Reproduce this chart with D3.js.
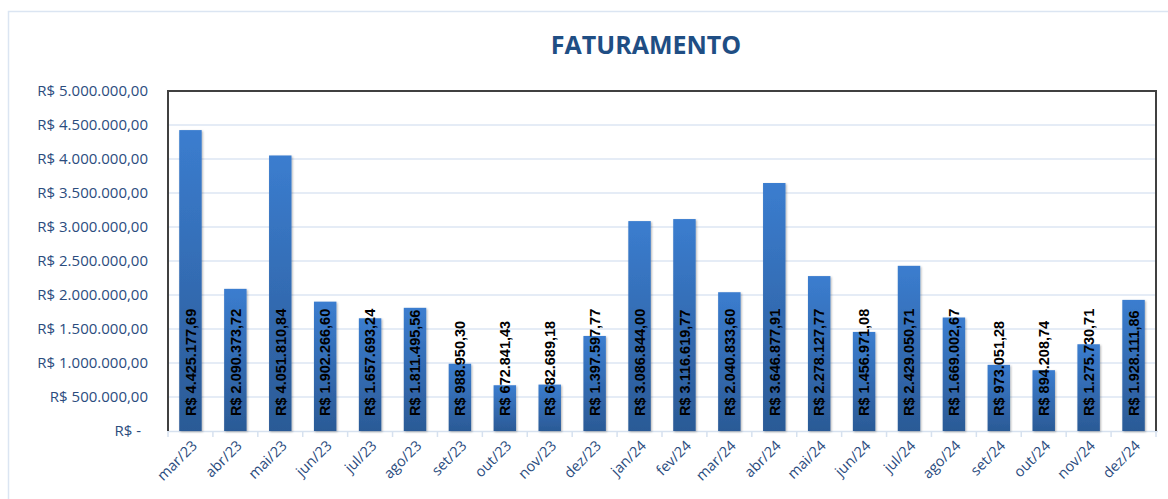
<!DOCTYPE html>
<html>
<head>
  <meta charset="utf-8">
  <title>Faturamento</title>
  <script src="https://d3js.org/d3.v7.min.js"></script>
  <style>
    body { margin: 0; background: #fff; }
    .ylab { font-family: "Open Sans", sans-serif; font-size: 15px; fill: #2b4c7e; }
    .xlab { font-family: "Open Sans", sans-serif; font-size: 14.5px; fill: #2b4c7e; }
    .vlab { font-family: "Liberation Sans", Arial, sans-serif; font-size: 14.5px; font-weight: bold; fill: #000; }
  </style>
</head>
<body>
  <div id="chart"></div>
  <script>
    // monthly revenue
    const months = ["mar/23","abr/23","mai/23","jun/23","jul/23","ago/23","set/23","out/23","nov/23","dez/23",
                    "jan/24","fev/24","mar/24","abr/24","mai/24","jun/24","jul/24","ago/24","set/24","out/24","nov/24","dez/24"];
    const revenue = [4425177.69, 2090373.72, 4051810.84, 1902266.60, 1657693.24, 1811495.56, 988950.30, 672841.43,
                     682689.18, 1397597.77, 3086844.00, 3116619.77, 2040833.60, 3646877.91, 2278127.77, 1456971.08,
                     2429050.71, 1669002.67, 973051.28, 894208.74, 1275730.71, 1928111.86];
    const yTicks = [0, 500000, 1000000, 1500000, 2000000, 2500000, 3000000, 3500000, 4000000, 4500000, 5000000];

    const width = 1168, height = 499;
    const margin = { left: 168, right: 12, top: 91, bottom: 68 };

    // pt-BR currency format
    const fmt = d3.formatLocale({ decimal: ",", thousands: ".", grouping: [3], currency: ["R$ ", ""] });
    const money = fmt.format(",.2f");
    const tickLabel = v => v === 0 ? "R$ -" : "R$ " + money(v);

    const svg = d3.select("#chart").append("svg")
      .attr("width", width).attr("height", height);

    const defs = svg.append("defs");
    const grad = defs.append("linearGradient").attr("id", "barGrad")
      .attr("x1", 0).attr("y1", 0).attr("x2", 0).attr("y2", 1)
      .attr("gradientUnits", "objectBoundingBox");
    grad.append("stop").attr("offset", "0%").attr("stop-color", "#3b7dcf");
    grad.append("stop").attr("offset", "100%").attr("stop-color", "#2b5a96");

    const shadow = defs.append("filter").attr("id", "shadow")
      .attr("x", "-30%").attr("y", "-10%").attr("width", "160%").attr("height", "120%");
    shadow.append("feDropShadow").attr("dx", 1).attr("dy", 1).attr("stdDeviation", 1.2)
      .attr("flood-color", "#000").attr("flood-opacity", 0.3);

    // outer chart frame
    svg.append("path").attr("d", `M8.5,${height} V11.5 H${width}`)
      .attr("fill", "none").attr("stroke", "#dbe5f2").attr("stroke-width", 1.5);

    const x = d3.scaleBand().domain(months)
      .range([margin.left, width - margin.right]).paddingInner(0.5).paddingOuter(0.25);
    const y = d3.scaleLinear().domain([0, 5000000]).range([height - margin.bottom, margin.top]);

    // gridlines
    svg.append("g").selectAll("line").data(yTicks.filter(d => d > 0 && d < 5000000)).join("line")
      .attr("x1", margin.left).attr("x2", width - margin.right)
      .attr("y1", d => y(d)).attr("y2", d => y(d))
      .attr("stroke", "#dce6f3").attr("stroke-width", 1.5);

    // y axis labels
    svg.append("g").selectAll("text").data(yTicks).join("text")
      .attr("class", "ylab")
      .attr("x", d => d === 0 ? 141 : 148).attr("y", d => y(d)).attr("dy", "0.35em")
      .attr("text-anchor", "end")
      .text(tickLabel);

    // x axis line and ticks
    const x0 = margin.left, x1 = width - margin.right, yb = y(0);
    svg.append("line").attr("x1", x0).attr("x2", x1 + 2).attr("y1", yb + 0.5).attr("y2", yb + 0.5)
      .attr("stroke", "#d6e1ef").attr("stroke-width", 1.5);
    const step = x.step();
    svg.append("g").selectAll("line").data(d3.range(months.length + 1)).join("line")
      .attr("x1", i => x0 + i * step).attr("x2", i => x0 + i * step)
      .attr("y1", yb).attr("y2", yb + 6)
      .attr("stroke", "#d6e1ef").attr("stroke-width", 1.5);

    // bars
    svg.append("g").selectAll("rect").data(revenue).join("rect")
      .attr("x", (d, i) => x(months[i])).attr("width", x.bandwidth())
      .attr("y", d => y(d)).attr("height", d => y(0) - y(d))
      .attr("fill", "url(#barGrad)")
      .attr("filter", "url(#shadow)");

    // plot border (top, left, right)
    svg.append("path").attr("d", `M${x0},${yb} V${margin.top} H${x1} V${yb}`)
      .attr("fill", "none").attr("stroke", "#404040").attr("stroke-width", 2);

    // value labels
    svg.append("g").selectAll("text").data(revenue).join("text")
      .attr("class", "vlab")
      .attr("transform", (d, i) => `translate(${x(months[i]) + x.bandwidth() / 2},${yb - 15}) rotate(-90)`)
      .attr("dy", "0.36em")
      .text(d => "R$ " + money(d));

    // x axis labels
    svg.append("g").selectAll("text").data(months).join("text")
      .attr("class", "xlab")
      .attr("transform", d => `translate(${x(d) + x.bandwidth() / 2 + 4},${yb + 12}) rotate(-45)`)
      .attr("text-anchor", "end")
      .attr("dy", "0.35em")
      .text(d => d);

    // title
    svg.append("text")
      .attr("x", 646).attr("y", 54)
      .attr("text-anchor", "middle")
      .style("font-family", "'Open Sans', sans-serif").style("font-weight", "bold")
      .style("font-size", "25px").style("fill", "#1f4e84")
      .text("FATURAMENTO");
  </script>
</body>
</html>
